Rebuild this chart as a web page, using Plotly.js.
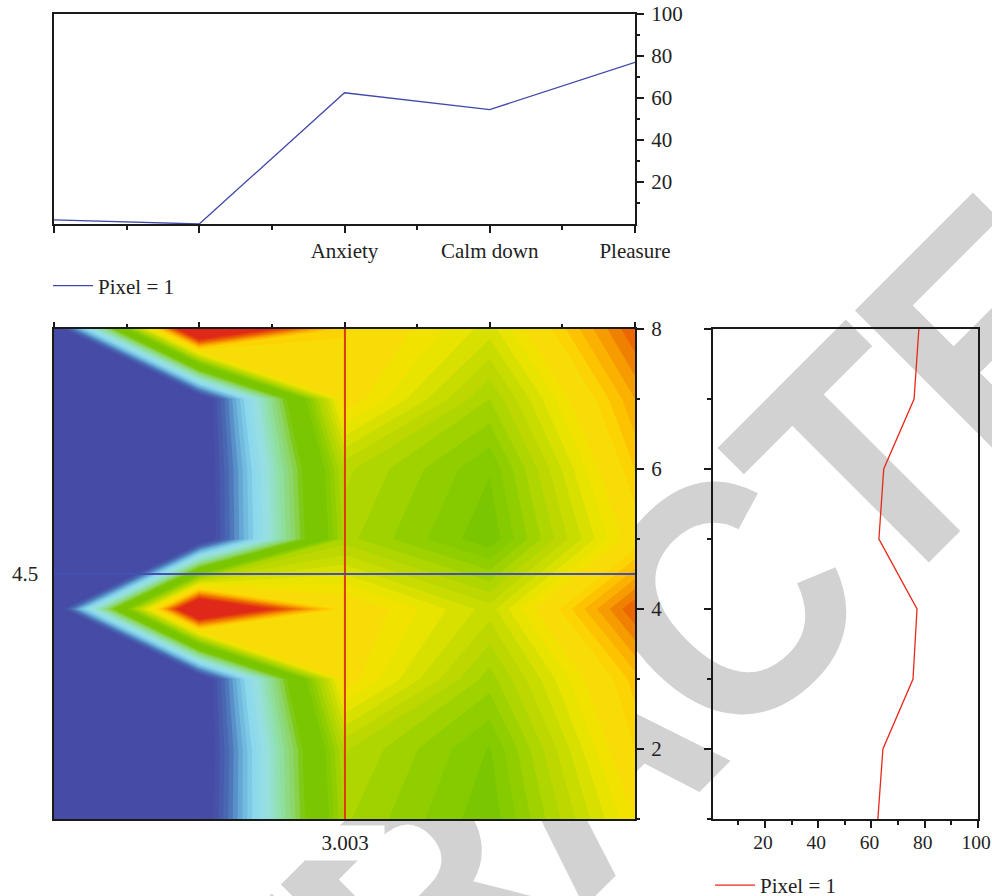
<!DOCTYPE html>
<html><head><meta charset="utf-8">
<script src="https://cdn.plot.ly/plotly-3.0.1.min.js"></script>
<style>
html,body{margin:0;padding:0;background:#fff;width:992px;height:896px;overflow:hidden}
#wrap{position:relative;width:992px;height:896px;overflow:hidden}
#wm{position:absolute;left:572px;top:756px;transform:translate(-50%,-50%) rotate(-45deg) scaleX(.92);font:bold 335px "Liberation Sans",sans-serif;color:#d2d2d2;white-space:nowrap;z-index:0;letter-spacing:-12px}
#chart{position:absolute;left:0;top:0;z-index:1}
</style></head><body>
<div id="wrap"><div id="wm">RETRACTED</div><div id="chart"></div></div>
<script>
const categories=[1,2,3,4,5];
const categoryLabels=['','','Anxiety','Calm down','Pleasure'];
const pixels=[1,2,3,4,5,6,7,8];
const columnProfile=[2,0,62.5,54.5,77];
const rowProfile=[62.4,64.3,75.6,77.1,62.8,64.6,76,77.8];
const cutX=3.003, cutY=4.5;
// one row per pixel (1..8), one value per category
const z1=[2,2,62.4,54.5,74];
const z2=[1,1,64.3,55.8,78];
const z3=[1,1,75.6,61,81];
const z4=[1,110,77.1,67,90];
const z5=[1,1,62.8,54.4,76];
const z6=[1,1,64.6,56.2,80];
const z7=[1,1,76,62,84];
const z8=[1,110,78.3,69,90];
const zMax=110;
const colorStops=[[0,'#464CA6'],[8,'#464CA6'],[14,'#4A6CB4'],[20,'#6AB4DC'],[25,'#8CD8EC'],[30,'#98E0E4'],[36,'#90E0A8'],[42,'#8CD460'],[46,'#7AC600'],[55,'#7AC600'],[57,'#86CA00'],[59,'#90CE00'],[61,'#A0D200'],[63,'#B0D600'],[65,'#BCD800'],[67,'#C8DC00'],[69,'#D8E000'],[71,'#E8E400'],[73,'#F2E200'],[75,'#F8DC08'],[78,'#F8DC08'],[80,'#FFCC00'],[84,'#F9A800'],[87,'#F08000'],[90,'#EA5A00'],[94,'#E0291A'],[110,'#E0291A']];
const W=992,H=896;
const fx=p=>p/W, fy=p=>1-p/H;
const font={family:'"Liberation Serif",serif',size:21,color:'#222'};
const axisBase={showgrid:false,zeroline:false,showline:true,linecolor:'#1a1a1a',linewidth:2,mirror:true,ticks:'outside',tickcolor:'#1a1a1a',tickwidth:2,tickfont:font,automargin:false,ticklabeloverflow:'allow'};
const minor=(vals,len)=>({tickmode:'array',tickvals:vals,ticks:'outside',ticklen:len,tickwidth:2,tickcolor:'#1a1a1a',showgrid:false});
const data=[
 {type:'contour',x:categories,y:pixels,z:[z1,z2,z3,z4,z5,z6,z7,z8],xaxis:'x2',yaxis:'y2',zmin:0,zmax:zMax,autocontour:false,
  contours:{start:0,end:zMax,size:2,coloring:'fill',showlines:false},line:{width:0,smoothing:0},showscale:false,
  colorscale:colorStops.map(s=>[s[0]/zMax,s[1]]),hoverinfo:'skip'},
 {type:'scatter',mode:'lines',x:[cutX,cutX],y:[pixels[0],pixels[7]],xaxis:'x2',yaxis:'y2',line:{color:'#DA3A0C',width:2},showlegend:false,hoverinfo:'skip'},
 {type:'scatter',mode:'lines',x:[categories[0],categories[4]],y:[cutY,cutY],xaxis:'x2',yaxis:'y2',line:{color:'#4650B0',width:2},showlegend:false,hoverinfo:'skip'},
 {type:'scatter',mode:'lines',name:'Pixel = 1',x:categories,y:columnProfile,xaxis:'x',yaxis:'y',line:{color:'#4048A8',width:1.3},cliponaxis:false,legend:'legend'},
 {type:'scatter',mode:'lines',name:'Pixel = 1',x:rowProfile,y:pixels,xaxis:'x3',yaxis:'y3',line:{color:'#E8281A',width:1.3},legend:'legend2'}
];
const layout={width:W,height:H,margin:{l:0,r:0,t:0,b:0,autoexpand:false},paper_bgcolor:'rgba(0,0,0,0)',plot_bgcolor:'rgba(0,0,0,0)',font:font,showlegend:true,
 xaxis:{...axisBase,domain:[fx(54),fx(635)],anchor:'y',range:[1,5],tickmode:'array',tickvals:categories,ticktext:categoryLabels,ticklen:7,minor:minor([1.5,2.5,3.5,4.5],4)},
 yaxis:{...axisBase,domain:[fy(224),fy(14)],anchor:'x',side:'right',range:[0,100],tickmode:'array',tickvals:[20,40,60,80,100],ticklen:7,ticklabelstandoff:3,minor:minor([10,30,50,70,90],3)},
 xaxis2:{...axisBase,domain:[fx(54),fx(635)],anchor:'y2',side:'top',range:[1,5],tickmode:'array',tickvals:categories,showticklabels:false,ticklen:5,minor:minor([1.5,2.5,3.5,4.5],3)},
 yaxis2:{...axisBase,domain:[fy(819),fy(329)],anchor:'x2',side:'right',range:[1,8],tickmode:'array',tickvals:[2,4,6,8],ticklen:7,ticklabelstandoff:3,minor:minor([1,3,5,7],3)},
 xaxis3:{...axisBase,domain:[fx(713),fx(978)],anchor:'y3',range:[0.5,100],tickmode:'array',tickvals:[20,40,60,80,100],ticklen:7,ticklabelstandoff:-2,ticklabelshift:-2,tickfont:{...font,size:19.5},minor:minor([10,30,50,70,90],4)},
 yaxis3:{...axisBase,domain:[fy(819),fy(329)],anchor:'x3',range:[1,8],tickmode:'array',tickvals:[2,4,6,8],showticklabels:false,ticklen:7,minor:minor([1,3,5,7],4)},
 legend:{x:fx(48),xanchor:'left',y:fy(286),yanchor:'middle',bgcolor:'rgba(0,0,0,0)',font:font,itemwidth:40,tracegroupgap:0},
 legend2:{x:fx(710),xanchor:'left',y:fy(865),yanchor:'top',bgcolor:'rgba(0,0,0,0)',font:font,itemwidth:40,tracegroupgap:0},
 annotations:[
  {xref:'x2',x:cutX,yref:'paper',y:fy(843),text:String(cutX),showarrow:false,font:font,bgcolor:'#fff',width:76,height:32,xanchor:'center',yanchor:'middle'},
  {xref:'paper',x:fx(25),yref:'y2',y:cutY,text:String(cutY),showarrow:false,font:font,xanchor:'center',yanchor:'middle'}
 ]
};
Plotly.newPlot('chart',data,layout,{displayModeBar:false,staticPlot:true});
</script></body></html>
